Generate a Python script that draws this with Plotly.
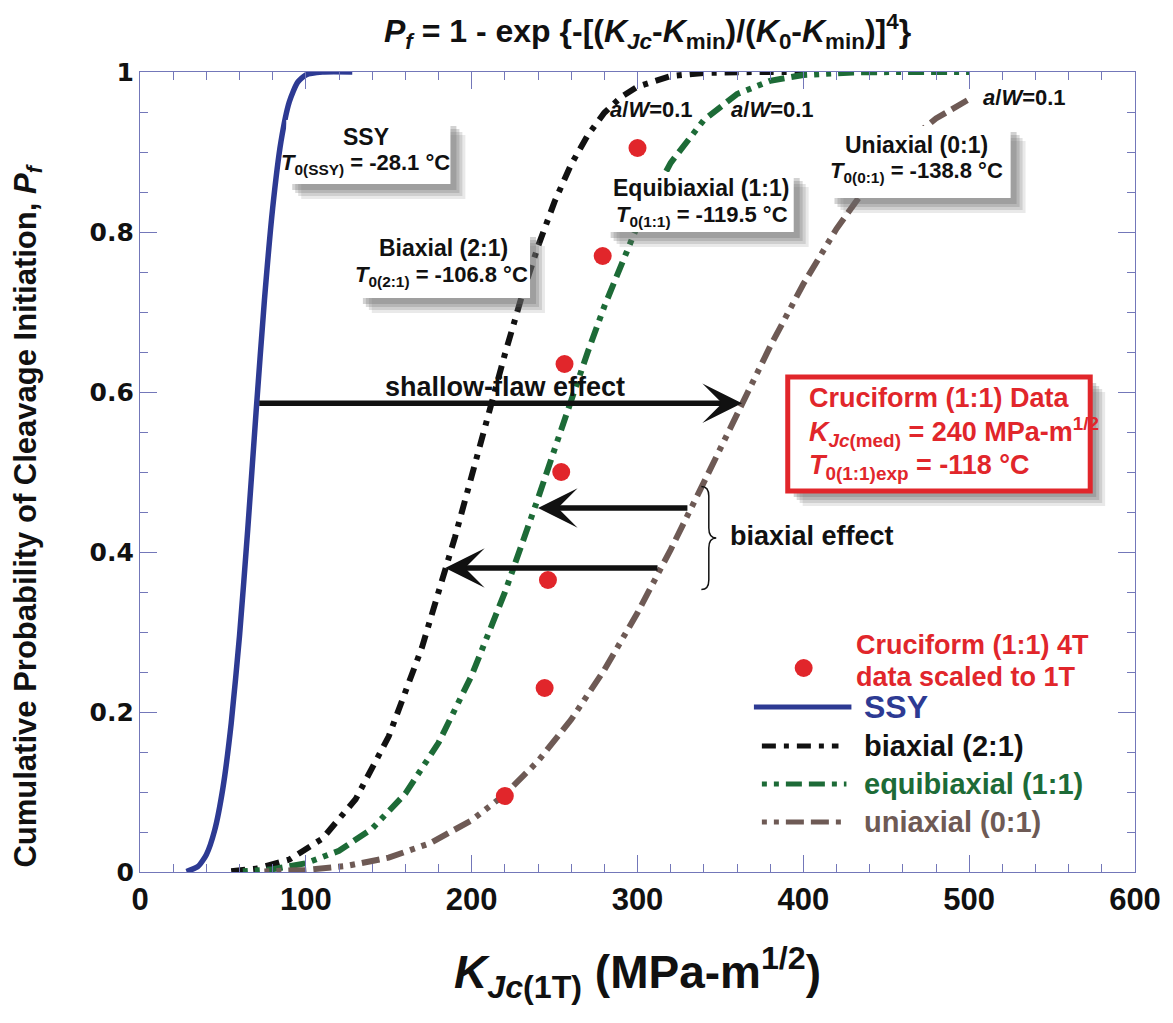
import plotly.graph_objects as go

# ---------------- data ----------------
ssy_x = [28, 35, 40, 45, 50, 55, 60, 65, 70, 75, 80, 85, 90, 95, 100, 110, 128]
ssy_y = [0.0006, 0.0069, 0.0216, 0.052, 0.105, 0.186, 0.295, 0.429, 0.575, 0.714,
         0.830, 0.913, 0.9625, 0.987, 0.9963, 0.9999, 1.0]

bi_x = [55, 70, 90, 110, 130, 150, 170, 190, 200, 210, 220, 230, 240, 250, 260, 270,
        280, 290, 300, 320, 340, 370, 400]
bi_y = [0.001, 0.004, 0.0155, 0.0418, 0.0909, 0.1696, 0.2806, 0.419, 0.495, 0.572,
        0.647, 0.718, 0.782, 0.838, 0.8845, 0.921, 0.949, 0.9685, 0.9817, 0.9949,
        0.9989, 0.9999, 1.0]

eq_x = [62, 80, 100, 120, 140, 160, 180, 200, 220, 230, 240, 250, 260, 270, 280, 290,
        300, 320, 340, 360, 380, 400, 430, 460, 500]
eq_y = [0.0008, 0.0035, 0.0109, 0.0265, 0.0542, 0.098, 0.1614, 0.2457, 0.3494, 0.407,
        0.467, 0.5285, 0.590, 0.650, 0.707, 0.760, 0.808, 0.8865, 0.940, 0.9724,
        0.989, 0.9963, 0.9995, 1.0, 1.0]

uni_x = [75, 100, 125, 150, 175, 200, 220, 240, 260, 280, 300, 320, 340, 360, 380,
         400, 420, 440, 460, 480, 500]
uni_y = [0.0006, 0.0026, 0.0077, 0.018, 0.0361, 0.0647, 0.0969, 0.1386, 0.1905,
         0.2526, 0.324, 0.403, 0.487, 0.573, 0.657, 0.735, 0.804, 0.862, 0.908,
         0.942, 0.966]

data_x = [220, 244, 246, 254, 256, 279, 300]
data_y = [0.095, 0.23, 0.365, 0.5, 0.635, 0.77, 0.905]

x_ticks = [0, 100, 200, 300, 400, 500, 600]
y_ticks = [0, 0.2, 0.4, 0.6, 0.8, 1]
y_ticktext = ["0", "0.2", "0.4", "0.6", "0.8", "1"]

# ---------------- styling ----------------
BLUE = "#2d3a93"
BLACK = "#111111"
GREEN = "#1d6b37"
BROWN = "#6e5a55"
RED = "#e1262b"
AXC = "#7377b9"
NARROW = "Liberation Sans Narrow, Arial Narrow, Liberation Sans, sans-serif"
SANS = "Liberation Sans, Arial, sans-serif"

DASH_BI = "14px,8px,5px,8px"
DASH_EQ = "5px,7px,5px,7px,16px,7px,16px,7px"
DASH_UNI = "5px,7px,5px,7px,18px,7px,18px,7px"

# plot area in pixels (for annotation placement)
L, R, T, B = 140, 1140, 72, 872


def px(x):
    return (x - L) / (R - L)


def py(y):
    return (B - y) / (B - T)


fig = go.Figure()
fig.add_trace(go.Scatter(x=ssy_x, y=ssy_y, mode="lines", cliponaxis=False,
                         line=dict(color=BLUE, width=5.5, shape="spline", smoothing=0.6), name="SSY"))
fig.add_trace(go.Scatter(x=bi_x, y=bi_y, mode="lines", cliponaxis=False,
                         line=dict(color=BLACK, width=6, dash=DASH_BI), name="biaxial (2:1)"))
fig.add_trace(go.Scatter(x=eq_x, y=eq_y, mode="lines", cliponaxis=False,
                         line=dict(color=GREEN, width=6, dash=DASH_EQ), name="equibiaxial (1:1)"))
fig.add_trace(go.Scatter(x=uni_x, y=uni_y, mode="lines", cliponaxis=False,
                         line=dict(color=BROWN, width=6, dash=DASH_UNI), name="uniaxial (0:1)"))
fig.add_trace(go.Scatter(x=data_x, y=data_y, mode="markers", cliponaxis=False,
                         marker=dict(color=RED, size=18), name="data"))

shapes = []
annotations = []


def shadow_box(x0, y0, x1, y1, border=None, bw=0):
    for off, op in [(15, 0.15), (12, 0.2), (9, 0.25), (6, 0.3)]:
        shapes.append(dict(type="rect", xref="paper", yref="paper", layer="above",
                           x0=px(x0 + off), x1=px(x1 + off), y0=py(y0 + off), y1=py(y1 + off),
                           fillcolor="#6a6a6a", opacity=op, line=dict(width=0)))
    shapes.append(dict(type="rect", xref="paper", yref="paper", layer="above",
                       x0=px(x0), x1=px(x1), y0=py(y0), y1=py(y1),
                       fillcolor="white",
                       line=dict(width=bw, color=border if border else "white")))


def text(x, y, s, size=22, color=BLACK, family=SANS, xanchor="center", **kw):
    annotations.append(dict(x=px(x), y=py(y), xref="paper", yref="paper", text=s,
                            showarrow=False, xanchor=xanchor, yanchor="middle",
                            font=dict(size=size, color=color, family=family), **kw))


# label boxes
shadow_box(287, 120, 452, 184)
text(367, 137, "<b>SSY</b>", size=23)
text(367, 164, "<b><i>T</i><sub>0(SSY)</sub> = -28.1 °C</b>")

shadow_box(358, 231, 532, 298)
text(445, 248, "<b>Biaxial (2:1)</b>", size=23)
text(443, 276, "<b><i>T</i><sub>0(2:1)</sub> = -106.8 °C</b>")

shadow_box(607, 172, 797, 232)
text(704, 188, "<b>Equibiaxial (1:1)</b>", size=23)
text(705, 216, "<b><i>T</i><sub>0(1:1)</sub> = -119.5 °C</b>")

shadow_box(832, 126, 1015, 198)
text(920, 145, "<b>Uniaxial (0:1)</b>", size=23)
text(920, 172, "<b><i>T</i><sub>0(0:1)</sub> = -138.8 °C</b>")

shadow_box(791, 377, 1095, 491, border=RED, bw=5)
text(810, 398, "<b>Cruciform (1:1) Data</b>", size=27, color=RED, xanchor="left")
text(810, 432, "<b><i>K</i><sub><i>Jc</i>(med)</sub> = 240 MPa-m<sup>1/2</sup></b>", size=27,
     color=RED, xanchor="left")
text(810, 467, "<b><i>T</i><sub>0(1:1)exp</sub> = -118 °C</b>", size=27, color=RED, xanchor="left")

# a/W labels
text(654, 110, "<b><i>a</i>/<i>W</i>=0.1</b>", size=22)
text(776, 110, "<b><i>a</i>/<i>W</i>=0.1</b>", size=22)
text(1029, 98, "<b><i>a</i>/<i>W</i>=0.1</b>", size=22)


# arrows (data coordinates)
def arrow(x_tail, x_head, yv):
    annotations.append(dict(x=x_head, y=yv, ax=x_tail, ay=yv, xref="x", yref="y",
                            axref="x", ayref="y", text="", showarrow=True,
                            arrowhead=3, arrowsize=1.2, arrowwidth=5.5, arrowcolor=BLACK))


arrow(71, 363, 0.586)
arrow(331, 240, 0.455)
arrow(313, 184, 0.38)
text(507, 387, "<b>shallow-flaw effect</b>", size=27)
text(731, 536, "<b>biaxial effect</b>", size=27, xanchor="left")

# brace
shapes.append(dict(type="path", xref="x", yref="y", layer="above",
                   path="M 338.5,0.482 Q 343,0.482 343,0.47 L 343,0.43 Q 343,0.4175 347.5,0.4175 "
                        "Q 343,0.4175 343,0.405 L 343,0.365 Q 343,0.353 338.5,0.353",
                   line=dict(color=BLACK, width=1.5)))

# legend (drawn)
shapes.append(dict(type="circle", xref="paper", yref="paper", layer="above",
                   x0=px(798), x1=px(816), y0=py(659), y1=py(677),
                   fillcolor=RED, line=dict(width=0)))
text(858, 645, "<b>Cruciform (1:1) 4T</b>", size=27, color=RED, xanchor="left")
text(858, 677, "<b>data scaled to 1T</b>", size=27, color=RED, xanchor="left")
leg = [(707, BLUE, "solid", "SSY", 757, 855),
       (746, BLACK, DASH_BI, "biaxial (2:1)", 765, 842),
       (784, GREEN, DASH_EQ, "equibiaxial (1:1)", 765, 850),
       (822, BROWN, DASH_UNI, "uniaxial (0:1)", 765, 850)]
for yy, col, dsh, lab, xa, xb in leg:
    shapes.append(dict(type="line", xref="paper", yref="paper", layer="above",
                       x0=px(xa), x1=px(xb), y0=py(yy), y1=py(yy),
                       line=dict(color=col, width=5, dash=dsh)))
    text(866, yy, "<b>%s</b>" % lab, size=32 if lab == "SSY" else 29, color=col, xanchor="left")

# titles
text(650, 32, "<b><i>P</i><sub><i>f</i></sub> = 1 - exp {-[(<i>K</i><sub><i>Jc</i></sub>-<i>K</i>"
              "<sub>min</sub>)/(<i>K</i><sub>0</sub>-<i>K</i><sub>min</sub>)]<sup>4</sup>}</b>",
     size=32, family=NARROW)
text(640, 972, "<b><i>K</i><sub><i>Jc</i>(1T)</sub> (MPa-m<sup>1/2</sup>)</b>", size=46, family=NARROW)
text(27, 516, "<b>Cumulative Probability of Cleavage Initiation, <i>P</i><sub><i>f</i></sub></b>",
     size=31, family=NARROW, textangle=-90)

fig.update_layout(
    width=1173, height=1023,
    margin=dict(l=L, r=1173 - R, t=T, b=1023 - B),
    paper_bgcolor="white", plot_bgcolor="white",
    showlegend=False,
    shapes=shapes, annotations=annotations,
    xaxis=dict(range=[0, 600], tickvals=x_ticks, ticks="inside", ticklen=17, tickwidth=1,
               tickcolor=AXC, showline=True, linecolor=AXC, linewidth=1.2, mirror="ticks",
               showgrid=False, zeroline=False,
               tickfont=dict(family=SANS, size=31, color=BLACK, weight="bold"),
               minor=dict(dtick=20, ticks="inside", ticklen=8, tickcolor=AXC, showgrid=False)),
    yaxis=dict(range=[0, 1], tickvals=y_ticks, ticktext=y_ticktext, ticks="inside", ticklen=17,
               tickwidth=1, tickcolor=AXC, showline=True, linecolor=AXC, linewidth=1.2,
               mirror="ticks", showgrid=False, zeroline=False,
               tickfont=dict(family="DejaVu Sans, Liberation Sans, sans-serif", size=25,
                             color=BLACK, weight="bold"),
               minor=dict(dtick=0.05, ticks="inside", ticklen=8, tickcolor=AXC, showgrid=False)),
)

fig.write_html("out.html")
